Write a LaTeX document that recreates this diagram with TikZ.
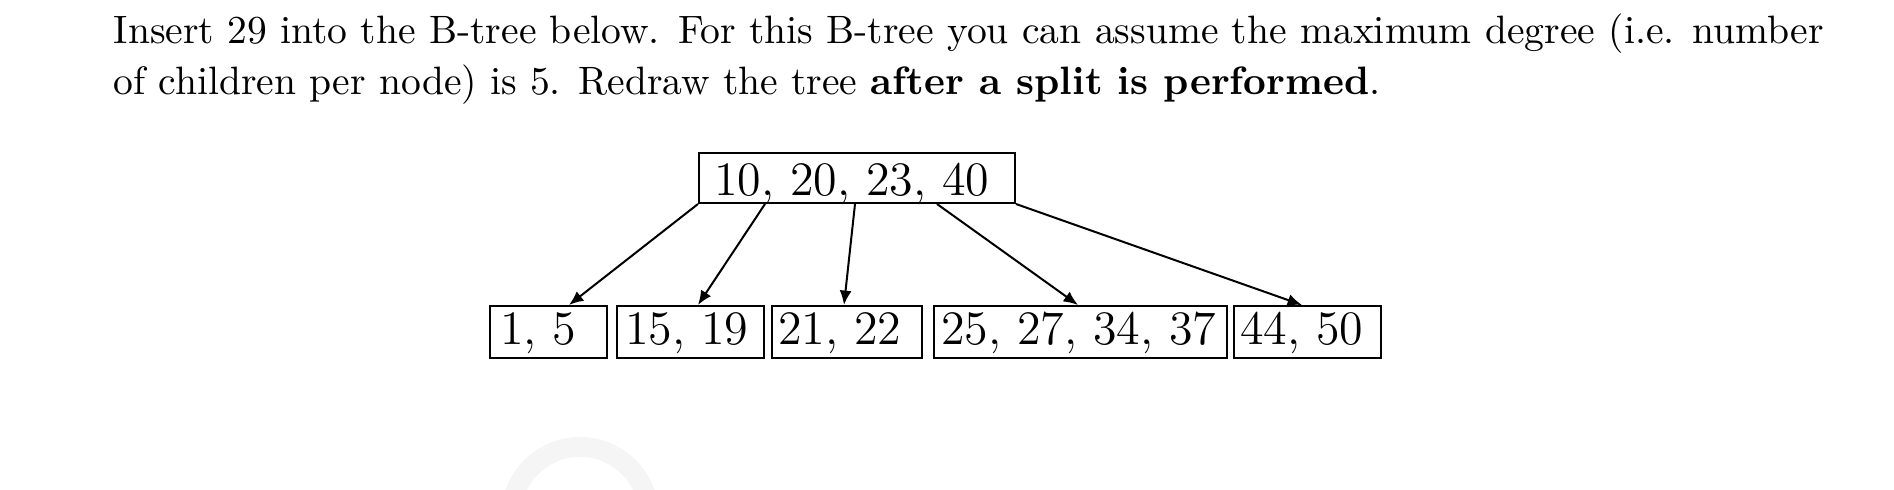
\documentclass[tikz,border=0pt]{standalone}
\usetikzlibrary{arrows.meta,calc}
\begin{document}
\begin{tikzpicture}[x=0.25pt,y=-0.25pt,
  bx/.style={draw, line width=0.5pt, inner sep=0pt, align=left, anchor=north west, font=\fontsize{12}{14}\selectfont},
  root/.style={bx, text height=10.75pt, text depth=1.75pt},
  leaf/.style={bx, text height=9.75pt, text depth=3.25pt},
  arr/.style={line width=0.5pt, -{Latex[length=3.6pt,width=3pt]}},
  txt/.style={anchor=base west, inner sep=0pt, font=\fontsize{9.9}{12}\selectfont}]
\useasboundingbox (0,0) rectangle (1894,490);
\fill[white] (0,0) rectangle (1894,490);
% faint watermark ring
\draw[black!4, line width=5pt] (580,516) circle[radius=17.25pt];
% question text
\node[txt] (q1) at (113,44) {\makebox[427.5pt][s]{Insert 29 into the B-tree below. For this B-tree you can assume the maximum degree (i.e. number}};
\node[txt] (q2) at (113,95) {of children per node) is 5. Redraw the tree \textbf{after a split is performed}.};
% tree
\node[root, text width=79pt] (root) at (698,152) {\hspace*{3.75pt}10, 20, 23, 40};
\node[leaf, text width=29.25pt] (l1) at (489,305) {\hspace*{2.5pt}1, 5};
\node[leaf, text width=36.75pt] (l2) at (616,305) {\hspace*{2pt}15, 19};
\node[leaf, text width=37.5pt] (l3) at (771,305) {\hspace*{1.5pt}21, 22};
\node[leaf, text width=73.25pt] (l4) at (933,305) {\hspace*{1.75pt}25, 27, 34, 37};
\node[leaf, text width=36.75pt] (l5) at (1233,305) {\hspace*{1.5pt}44, 50};
% pointer positions
\coordinate (s2) at ($(root.south west)+(67,0)$);
\coordinate (s3) at ($(root.south west)+(157,0)$);
\coordinate (s4) at ($(root.south west)+(239,0)$);
\coordinate (e1) at ($(l1.north)+(20.5,0)$);
\coordinate (e2) at ($(l2.north)+(7.5,0)$);
\coordinate (e3) at ($(l3.north)+(-3,0)$);
\coordinate (e4) at ($(l4.north)+(-2.5,0)$);
\coordinate (e5) at ($(l5.north)+(-5.5,0)$);
\draw[arr] (root.south west) -- (e1);
\draw[arr] (s2) -- (e2);
\draw[arr] (s3) -- (e3);
\draw[arr] (s4) -- (e4);
\draw[arr] (root.south east) -- (e5);
\end{tikzpicture}
\end{document}
